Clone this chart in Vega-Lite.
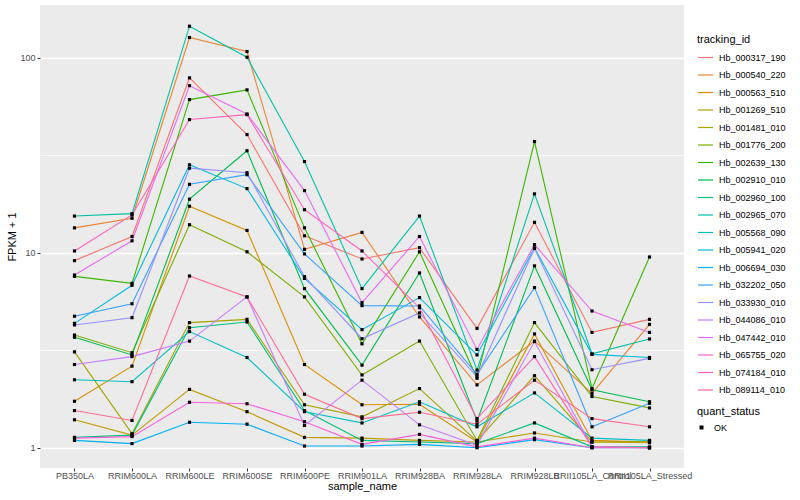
{
  "$schema": "https://vega.github.io/schema/vega-lite/v6.json",
  "width": 644,
  "height": 463,
  "autosize": {"type": "none"},
  "padding": {"left": 40, "top": 5, "right": 116, "bottom": 32},
  "background": "white",
  "config": {
    "view": {"fill": "#EBEBEB", "stroke": null},
    "font": "Liberation Sans",
    "axis": {
      "domain": false,
      "gridColor": "white",
      "gridWidth": 1.4,
      "tickColor": "#333333",
      "tickSize": 3,
      "tickWidth": 1,
      "labelColor": "#4D4D4D",
      "labelFontSize": 9,
      "labelFont": "Liberation Sans",
      "titleFont": "Liberation Sans",
      "titleFontSize": 11,
      "titleFontWeight": "normal",
      "titleColor": "black",
      "labelPadding": 2
    },
    "legend": {
      "titleFont": "Liberation Sans",
      "titleFontSize": 11,
      "titleFontWeight": "normal",
      "titleColor": "black",
      "labelFont": "Liberation Sans",
      "labelFontSize": 9,
      "labelColor": "black"
    }
  },
  "data": {
    "values": [
      {"tracking_id": "Hb_000317_190", "sample_name": "PB350LA", "fpkm": 9.1, "quant_status": "OK"},
      {"tracking_id": "Hb_000317_190", "sample_name": "RRIM600LA", "fpkm": 12.1, "quant_status": "OK"},
      {"tracking_id": "Hb_000317_190", "sample_name": "RRIM600LE", "fpkm": 78.7, "quant_status": "OK"},
      {"tracking_id": "Hb_000317_190", "sample_name": "RRIM600SE", "fpkm": 40.3, "quant_status": "OK"},
      {"tracking_id": "Hb_000317_190", "sample_name": "RRIM600PE", "fpkm": 12.2, "quant_status": "OK"},
      {"tracking_id": "Hb_000317_190", "sample_name": "RRIM901LA", "fpkm": 9.28, "quant_status": "OK"},
      {"tracking_id": "Hb_000317_190", "sample_name": "RRIM928BA", "fpkm": 10.6, "quant_status": "OK"},
      {"tracking_id": "Hb_000317_190", "sample_name": "RRIM928LA", "fpkm": 4.09, "quant_status": "OK"},
      {"tracking_id": "Hb_000317_190", "sample_name": "RRIM928LB", "fpkm": 14.3, "quant_status": "OK"},
      {"tracking_id": "Hb_000317_190", "sample_name": "RRII105LA_Control", "fpkm": 3.9, "quant_status": "OK"},
      {"tracking_id": "Hb_000317_190", "sample_name": "RRII105LA_Stressed", "fpkm": 4.55, "quant_status": "OK"},

      {"tracking_id": "Hb_000540_220", "sample_name": "PB350LA", "fpkm": 13.4, "quant_status": "OK"},
      {"tracking_id": "Hb_000540_220", "sample_name": "RRIM600LA", "fpkm": 15.0, "quant_status": "OK"},
      {"tracking_id": "Hb_000540_220", "sample_name": "RRIM600LE", "fpkm": 126.7, "quant_status": "OK"},
      {"tracking_id": "Hb_000540_220", "sample_name": "RRIM600SE", "fpkm": 107.4, "quant_status": "OK"},
      {"tracking_id": "Hb_000540_220", "sample_name": "RRIM600PE", "fpkm": 10.4, "quant_status": "OK"},
      {"tracking_id": "Hb_000540_220", "sample_name": "RRIM901LA", "fpkm": 12.7, "quant_status": "OK"},
      {"tracking_id": "Hb_000540_220", "sample_name": "RRIM928BA", "fpkm": 4.68, "quant_status": "OK"},
      {"tracking_id": "Hb_000540_220", "sample_name": "RRIM928LA", "fpkm": 2.10, "quant_status": "OK"},
      {"tracking_id": "Hb_000540_220", "sample_name": "RRIM928LB", "fpkm": 3.52, "quant_status": "OK"},
      {"tracking_id": "Hb_000540_220", "sample_name": "RRII105LA_Control", "fpkm": 1.90, "quant_status": "OK"},
      {"tracking_id": "Hb_000540_220", "sample_name": "RRII105LA_Stressed", "fpkm": 4.29, "quant_status": "OK"},

      {"tracking_id": "Hb_000563_510", "sample_name": "PB350LA", "fpkm": 1.73, "quant_status": "OK"},
      {"tracking_id": "Hb_000563_510", "sample_name": "RRIM600LA", "fpkm": 2.62, "quant_status": "OK"},
      {"tracking_id": "Hb_000563_510", "sample_name": "RRIM600LE", "fpkm": 17.3, "quant_status": "OK"},
      {"tracking_id": "Hb_000563_510", "sample_name": "RRIM600SE", "fpkm": 13.0, "quant_status": "OK"},
      {"tracking_id": "Hb_000563_510", "sample_name": "RRIM600PE", "fpkm": 2.67, "quant_status": "OK"},
      {"tracking_id": "Hb_000563_510", "sample_name": "RRIM901LA", "fpkm": 1.66, "quant_status": "OK"},
      {"tracking_id": "Hb_000563_510", "sample_name": "RRIM928BA", "fpkm": 1.67, "quant_status": "OK"},
      {"tracking_id": "Hb_000563_510", "sample_name": "RRIM928LA", "fpkm": 1.07, "quant_status": "OK"},
      {"tracking_id": "Hb_000563_510", "sample_name": "RRIM928LB", "fpkm": 3.83, "quant_status": "OK"},
      {"tracking_id": "Hb_000563_510", "sample_name": "RRII105LA_Control", "fpkm": 1.09, "quant_status": "OK"},
      {"tracking_id": "Hb_000563_510", "sample_name": "RRII105LA_Stressed", "fpkm": 1.07, "quant_status": "OK"},

      {"tracking_id": "Hb_001269_510", "sample_name": "PB350LA", "fpkm": 1.39, "quant_status": "OK"},
      {"tracking_id": "Hb_001269_510", "sample_name": "RRIM600LA", "fpkm": 1.16, "quant_status": "OK"},
      {"tracking_id": "Hb_001269_510", "sample_name": "RRIM600LE", "fpkm": 1.99, "quant_status": "OK"},
      {"tracking_id": "Hb_001269_510", "sample_name": "RRIM600SE", "fpkm": 1.53, "quant_status": "OK"},
      {"tracking_id": "Hb_001269_510", "sample_name": "RRIM600PE", "fpkm": 1.13, "quant_status": "OK"},
      {"tracking_id": "Hb_001269_510", "sample_name": "RRIM901LA", "fpkm": 1.12, "quant_status": "OK"},
      {"tracking_id": "Hb_001269_510", "sample_name": "RRIM928BA", "fpkm": 1.09, "quant_status": "OK"},
      {"tracking_id": "Hb_001269_510", "sample_name": "RRIM928LA", "fpkm": 1.07, "quant_status": "OK"},
      {"tracking_id": "Hb_001269_510", "sample_name": "RRIM928LB", "fpkm": 1.19, "quant_status": "OK"},
      {"tracking_id": "Hb_001269_510", "sample_name": "RRII105LA_Control", "fpkm": 1.07, "quant_status": "OK"},
      {"tracking_id": "Hb_001269_510", "sample_name": "RRII105LA_Stressed", "fpkm": 1.06, "quant_status": "OK"},

      {"tracking_id": "Hb_001481_010", "sample_name": "PB350LA", "fpkm": 3.10, "quant_status": "OK"},
      {"tracking_id": "Hb_001481_010", "sample_name": "RRIM600LA", "fpkm": 1.18, "quant_status": "OK"},
      {"tracking_id": "Hb_001481_010", "sample_name": "RRIM600LE", "fpkm": 4.38, "quant_status": "OK"},
      {"tracking_id": "Hb_001481_010", "sample_name": "RRIM600SE", "fpkm": 4.55, "quant_status": "OK"},
      {"tracking_id": "Hb_001481_010", "sample_name": "RRIM600PE", "fpkm": 1.66, "quant_status": "OK"},
      {"tracking_id": "Hb_001481_010", "sample_name": "RRIM901LA", "fpkm": 1.44, "quant_status": "OK"},
      {"tracking_id": "Hb_001481_010", "sample_name": "RRIM928BA", "fpkm": 2.01, "quant_status": "OK"},
      {"tracking_id": "Hb_001481_010", "sample_name": "RRIM928LA", "fpkm": 1.08, "quant_status": "OK"},
      {"tracking_id": "Hb_001481_010", "sample_name": "RRIM928LB", "fpkm": 2.34, "quant_status": "OK"},
      {"tracking_id": "Hb_001481_010", "sample_name": "RRII105LA_Control", "fpkm": 1.07, "quant_status": "OK"},
      {"tracking_id": "Hb_001481_010", "sample_name": "RRII105LA_Stressed", "fpkm": 1.08, "quant_status": "OK"},

      {"tracking_id": "Hb_001776_200", "sample_name": "PB350LA", "fpkm": 3.78, "quant_status": "OK"},
      {"tracking_id": "Hb_001776_200", "sample_name": "RRIM600LA", "fpkm": 3.07, "quant_status": "OK"},
      {"tracking_id": "Hb_001776_200", "sample_name": "RRIM600LE", "fpkm": 13.9, "quant_status": "OK"},
      {"tracking_id": "Hb_001776_200", "sample_name": "RRIM600SE", "fpkm": 10.1, "quant_status": "OK"},
      {"tracking_id": "Hb_001776_200", "sample_name": "RRIM600PE", "fpkm": 5.93, "quant_status": "OK"},
      {"tracking_id": "Hb_001776_200", "sample_name": "RRIM901LA", "fpkm": 2.36, "quant_status": "OK"},
      {"tracking_id": "Hb_001776_200", "sample_name": "RRIM928BA", "fpkm": 3.52, "quant_status": "OK"},
      {"tracking_id": "Hb_001776_200", "sample_name": "RRIM928LA", "fpkm": 1.09, "quant_status": "OK"},
      {"tracking_id": "Hb_001776_200", "sample_name": "RRIM928LB", "fpkm": 4.38, "quant_status": "OK"},
      {"tracking_id": "Hb_001776_200", "sample_name": "RRII105LA_Control", "fpkm": 1.83, "quant_status": "OK"},
      {"tracking_id": "Hb_001776_200", "sample_name": "RRII105LA_Stressed", "fpkm": 1.60, "quant_status": "OK"},

      {"tracking_id": "Hb_002639_130", "sample_name": "PB350LA", "fpkm": 7.56, "quant_status": "OK"},
      {"tracking_id": "Hb_002639_130", "sample_name": "RRIM600LA", "fpkm": 6.96, "quant_status": "OK"},
      {"tracking_id": "Hb_002639_130", "sample_name": "RRIM600LE", "fpkm": 60.9, "quant_status": "OK"},
      {"tracking_id": "Hb_002639_130", "sample_name": "RRIM600SE", "fpkm": 68.3, "quant_status": "OK"},
      {"tracking_id": "Hb_002639_130", "sample_name": "RRIM600PE", "fpkm": 13.4, "quant_status": "OK"},
      {"tracking_id": "Hb_002639_130", "sample_name": "RRIM901LA", "fpkm": 3.41, "quant_status": "OK"},
      {"tracking_id": "Hb_002639_130", "sample_name": "RRIM928BA", "fpkm": 10.1, "quant_status": "OK"},
      {"tracking_id": "Hb_002639_130", "sample_name": "RRIM928LA", "fpkm": 2.27, "quant_status": "OK"},
      {"tracking_id": "Hb_002639_130", "sample_name": "RRIM928LB", "fpkm": 37.1, "quant_status": "OK"},
      {"tracking_id": "Hb_002639_130", "sample_name": "RRII105LA_Control", "fpkm": 2.01, "quant_status": "OK"},
      {"tracking_id": "Hb_002639_130", "sample_name": "RRII105LA_Stressed", "fpkm": 9.5, "quant_status": "OK"},

      {"tracking_id": "Hb_002910_010", "sample_name": "PB350LA", "fpkm": 3.68, "quant_status": "OK"},
      {"tracking_id": "Hb_002910_010", "sample_name": "RRIM600LA", "fpkm": 2.99, "quant_status": "OK"},
      {"tracking_id": "Hb_002910_010", "sample_name": "RRIM600LE", "fpkm": 18.8, "quant_status": "OK"},
      {"tracking_id": "Hb_002910_010", "sample_name": "RRIM600SE", "fpkm": 33.3, "quant_status": "OK"},
      {"tracking_id": "Hb_002910_010", "sample_name": "RRIM600PE", "fpkm": 6.54, "quant_status": "OK"},
      {"tracking_id": "Hb_002910_010", "sample_name": "RRIM901LA", "fpkm": 2.65, "quant_status": "OK"},
      {"tracking_id": "Hb_002910_010", "sample_name": "RRIM928BA", "fpkm": 7.87, "quant_status": "OK"},
      {"tracking_id": "Hb_002910_010", "sample_name": "RRIM928LA", "fpkm": 1.37, "quant_status": "OK"},
      {"tracking_id": "Hb_002910_010", "sample_name": "RRIM928LB", "fpkm": 8.55, "quant_status": "OK"},
      {"tracking_id": "Hb_002910_010", "sample_name": "RRII105LA_Control", "fpkm": 1.98, "quant_status": "OK"},
      {"tracking_id": "Hb_002910_010", "sample_name": "RRII105LA_Stressed", "fpkm": 1.72, "quant_status": "OK"},

      {"tracking_id": "Hb_002960_100", "sample_name": "PB350LA", "fpkm": 1.13, "quant_status": "OK"},
      {"tracking_id": "Hb_002960_100", "sample_name": "RRIM600LA", "fpkm": 1.16, "quant_status": "OK"},
      {"tracking_id": "Hb_002960_100", "sample_name": "RRIM600LE", "fpkm": 4.12, "quant_status": "OK"},
      {"tracking_id": "Hb_002960_100", "sample_name": "RRIM600SE", "fpkm": 4.41, "quant_status": "OK"},
      {"tracking_id": "Hb_002960_100", "sample_name": "RRIM600PE", "fpkm": 1.55, "quant_status": "OK"},
      {"tracking_id": "Hb_002960_100", "sample_name": "RRIM901LA", "fpkm": 1.09, "quant_status": "OK"},
      {"tracking_id": "Hb_002960_100", "sample_name": "RRIM928BA", "fpkm": 1.07, "quant_status": "OK"},
      {"tracking_id": "Hb_002960_100", "sample_name": "RRIM928LA", "fpkm": 1.05, "quant_status": "OK"},
      {"tracking_id": "Hb_002960_100", "sample_name": "RRIM928LB", "fpkm": 1.34, "quant_status": "OK"},
      {"tracking_id": "Hb_002960_100", "sample_name": "RRII105LA_Control", "fpkm": 1.01, "quant_status": "OK"},
      {"tracking_id": "Hb_002960_100", "sample_name": "RRII105LA_Stressed", "fpkm": 1.01, "quant_status": "OK"},

      {"tracking_id": "Hb_002965_070", "sample_name": "PB350LA", "fpkm": 15.4, "quant_status": "OK"},
      {"tracking_id": "Hb_002965_070", "sample_name": "RRIM600LA", "fpkm": 15.85, "quant_status": "OK"},
      {"tracking_id": "Hb_002965_070", "sample_name": "RRIM600LE", "fpkm": 144.8, "quant_status": "OK"},
      {"tracking_id": "Hb_002965_070", "sample_name": "RRIM600SE", "fpkm": 100.4, "quant_status": "OK"},
      {"tracking_id": "Hb_002965_070", "sample_name": "RRIM600PE", "fpkm": 29.3, "quant_status": "OK"},
      {"tracking_id": "Hb_002965_070", "sample_name": "RRIM901LA", "fpkm": 6.54, "quant_status": "OK"},
      {"tracking_id": "Hb_002965_070", "sample_name": "RRIM928BA", "fpkm": 15.4, "quant_status": "OK"},
      {"tracking_id": "Hb_002965_070", "sample_name": "RRIM928LA", "fpkm": 2.50, "quant_status": "OK"},
      {"tracking_id": "Hb_002965_070", "sample_name": "RRIM928LB", "fpkm": 20.0, "quant_status": "OK"},
      {"tracking_id": "Hb_002965_070", "sample_name": "RRII105LA_Control", "fpkm": 3.03, "quant_status": "OK"},
      {"tracking_id": "Hb_002965_070", "sample_name": "RRII105LA_Stressed", "fpkm": 3.61, "quant_status": "OK"},

      {"tracking_id": "Hb_005568_090", "sample_name": "PB350LA", "fpkm": 2.23, "quant_status": "OK"},
      {"tracking_id": "Hb_005568_090", "sample_name": "RRIM600LA", "fpkm": 2.18, "quant_status": "OK"},
      {"tracking_id": "Hb_005568_090", "sample_name": "RRIM600LE", "fpkm": 3.94, "quant_status": "OK"},
      {"tracking_id": "Hb_005568_090", "sample_name": "RRIM600SE", "fpkm": 2.90, "quant_status": "OK"},
      {"tracking_id": "Hb_005568_090", "sample_name": "RRIM600PE", "fpkm": 1.53, "quant_status": "OK"},
      {"tracking_id": "Hb_005568_090", "sample_name": "RRIM901LA", "fpkm": 1.34, "quant_status": "OK"},
      {"tracking_id": "Hb_005568_090", "sample_name": "RRIM928BA", "fpkm": 1.72, "quant_status": "OK"},
      {"tracking_id": "Hb_005568_090", "sample_name": "RRIM928LA", "fpkm": 1.28, "quant_status": "OK"},
      {"tracking_id": "Hb_005568_090", "sample_name": "RRIM928LB", "fpkm": 1.91, "quant_status": "OK"},
      {"tracking_id": "Hb_005568_090", "sample_name": "RRII105LA_Control", "fpkm": 1.12, "quant_status": "OK"},
      {"tracking_id": "Hb_005568_090", "sample_name": "RRII105LA_Stressed", "fpkm": 1.09, "quant_status": "OK"},

      {"tracking_id": "Hb_005941_020", "sample_name": "PB350LA", "fpkm": 4.34, "quant_status": "OK"},
      {"tracking_id": "Hb_005941_020", "sample_name": "RRIM600LA", "fpkm": 6.8, "quant_status": "OK"},
      {"tracking_id": "Hb_005941_020", "sample_name": "RRIM600LE", "fpkm": 28.2, "quant_status": "OK"},
      {"tracking_id": "Hb_005941_020", "sample_name": "RRIM600SE", "fpkm": 21.3, "quant_status": "OK"},
      {"tracking_id": "Hb_005941_020", "sample_name": "RRIM600PE", "fpkm": 7.38, "quant_status": "OK"},
      {"tracking_id": "Hb_005941_020", "sample_name": "RRIM901LA", "fpkm": 4.03, "quant_status": "OK"},
      {"tracking_id": "Hb_005941_020", "sample_name": "RRIM928BA", "fpkm": 5.88, "quant_status": "OK"},
      {"tracking_id": "Hb_005941_020", "sample_name": "RRIM928LA", "fpkm": 2.99, "quant_status": "OK"},
      {"tracking_id": "Hb_005941_020", "sample_name": "RRIM928LB", "fpkm": 10.6, "quant_status": "OK"},
      {"tracking_id": "Hb_005941_020", "sample_name": "RRII105LA_Control", "fpkm": 3.01, "quant_status": "OK"},
      {"tracking_id": "Hb_005941_020", "sample_name": "RRII105LA_Stressed", "fpkm": 2.90, "quant_status": "OK"},

      {"tracking_id": "Hb_006694_030", "sample_name": "PB350LA", "fpkm": 1.09, "quant_status": "OK"},
      {"tracking_id": "Hb_006694_030", "sample_name": "RRIM600LA", "fpkm": 1.05, "quant_status": "OK"},
      {"tracking_id": "Hb_006694_030", "sample_name": "RRIM600LE", "fpkm": 1.35, "quant_status": "OK"},
      {"tracking_id": "Hb_006694_030", "sample_name": "RRIM600SE", "fpkm": 1.32, "quant_status": "OK"},
      {"tracking_id": "Hb_006694_030", "sample_name": "RRIM600PE", "fpkm": 1.02, "quant_status": "OK"},
      {"tracking_id": "Hb_006694_030", "sample_name": "RRIM901LA", "fpkm": 1.02, "quant_status": "OK"},
      {"tracking_id": "Hb_006694_030", "sample_name": "RRIM928BA", "fpkm": 1.04, "quant_status": "OK"},
      {"tracking_id": "Hb_006694_030", "sample_name": "RRIM928LA", "fpkm": 1.0, "quant_status": "OK"},
      {"tracking_id": "Hb_006694_030", "sample_name": "RRIM928LB", "fpkm": 1.10, "quant_status": "OK"},
      {"tracking_id": "Hb_006694_030", "sample_name": "RRII105LA_Control", "fpkm": 1.0, "quant_status": "OK"},
      {"tracking_id": "Hb_006694_030", "sample_name": "RRII105LA_Stressed", "fpkm": 1.0, "quant_status": "OK"},

      {"tracking_id": "Hb_032202_050", "sample_name": "PB350LA", "fpkm": 4.72, "quant_status": "OK"},
      {"tracking_id": "Hb_032202_050", "sample_name": "RRIM600LA", "fpkm": 5.47, "quant_status": "OK"},
      {"tracking_id": "Hb_032202_050", "sample_name": "RRIM600LE", "fpkm": 22.4, "quant_status": "OK"},
      {"tracking_id": "Hb_032202_050", "sample_name": "RRIM600SE", "fpkm": 25.1, "quant_status": "OK"},
      {"tracking_id": "Hb_032202_050", "sample_name": "RRIM600PE", "fpkm": 9.85, "quant_status": "OK"},
      {"tracking_id": "Hb_032202_050", "sample_name": "RRIM901LA", "fpkm": 5.35, "quant_status": "OK"},
      {"tracking_id": "Hb_032202_050", "sample_name": "RRIM928BA", "fpkm": 5.33, "quant_status": "OK"},
      {"tracking_id": "Hb_032202_050", "sample_name": "RRIM928LA", "fpkm": 2.38, "quant_status": "OK"},
      {"tracking_id": "Hb_032202_050", "sample_name": "RRIM928LB", "fpkm": 6.62, "quant_status": "OK"},
      {"tracking_id": "Hb_032202_050", "sample_name": "RRII105LA_Control", "fpkm": 1.28, "quant_status": "OK"},
      {"tracking_id": "Hb_032202_050", "sample_name": "RRII105LA_Stressed", "fpkm": 1.69, "quant_status": "OK"},

      {"tracking_id": "Hb_033930_010", "sample_name": "PB350LA", "fpkm": 4.26, "quant_status": "OK"},
      {"tracking_id": "Hb_033930_010", "sample_name": "RRIM600LA", "fpkm": 4.64, "quant_status": "OK"},
      {"tracking_id": "Hb_033930_010", "sample_name": "RRIM600LE", "fpkm": 27.1, "quant_status": "OK"},
      {"tracking_id": "Hb_033930_010", "sample_name": "RRIM600SE", "fpkm": 25.7, "quant_status": "OK"},
      {"tracking_id": "Hb_033930_010", "sample_name": "RRIM600PE", "fpkm": 7.53, "quant_status": "OK"},
      {"tracking_id": "Hb_033930_010", "sample_name": "RRIM901LA", "fpkm": 3.62, "quant_status": "OK"},
      {"tracking_id": "Hb_033930_010", "sample_name": "RRIM928BA", "fpkm": 4.91, "quant_status": "OK"},
      {"tracking_id": "Hb_033930_010", "sample_name": "RRIM928LA", "fpkm": 2.31, "quant_status": "OK"},
      {"tracking_id": "Hb_033930_010", "sample_name": "RRIM928LB", "fpkm": 10.5, "quant_status": "OK"},
      {"tracking_id": "Hb_033930_010", "sample_name": "RRII105LA_Control", "fpkm": 2.51, "quant_status": "OK"},
      {"tracking_id": "Hb_033930_010", "sample_name": "RRII105LA_Stressed", "fpkm": 2.87, "quant_status": "OK"},

      {"tracking_id": "Hb_044086_010", "sample_name": "PB350LA", "fpkm": 2.67, "quant_status": "OK"},
      {"tracking_id": "Hb_044086_010", "sample_name": "RRIM600LA", "fpkm": 2.93, "quant_status": "OK"},
      {"tracking_id": "Hb_044086_010", "sample_name": "RRIM600LE", "fpkm": 3.52, "quant_status": "OK"},
      {"tracking_id": "Hb_044086_010", "sample_name": "RRIM600SE", "fpkm": 5.93, "quant_status": "OK"},
      {"tracking_id": "Hb_044086_010", "sample_name": "RRIM600PE", "fpkm": 1.30, "quant_status": "OK"},
      {"tracking_id": "Hb_044086_010", "sample_name": "RRIM901LA", "fpkm": 2.22, "quant_status": "OK"},
      {"tracking_id": "Hb_044086_010", "sample_name": "RRIM928BA", "fpkm": 1.31, "quant_status": "OK"},
      {"tracking_id": "Hb_044086_010", "sample_name": "RRIM928LA", "fpkm": 1.03, "quant_status": "OK"},
      {"tracking_id": "Hb_044086_010", "sample_name": "RRIM928LB", "fpkm": 3.50, "quant_status": "OK"},
      {"tracking_id": "Hb_044086_010", "sample_name": "RRII105LA_Control", "fpkm": 1.01, "quant_status": "OK"},
      {"tracking_id": "Hb_044086_010", "sample_name": "RRII105LA_Stressed", "fpkm": 1.0, "quant_status": "OK"},

      {"tracking_id": "Hb_047442_010", "sample_name": "PB350LA", "fpkm": 7.68, "quant_status": "OK"},
      {"tracking_id": "Hb_047442_010", "sample_name": "RRIM600LA", "fpkm": 11.5, "quant_status": "OK"},
      {"tracking_id": "Hb_047442_010", "sample_name": "RRIM600LE", "fpkm": 71.8, "quant_status": "OK"},
      {"tracking_id": "Hb_047442_010", "sample_name": "RRIM600SE", "fpkm": 51.4, "quant_status": "OK"},
      {"tracking_id": "Hb_047442_010", "sample_name": "RRIM600PE", "fpkm": 20.8, "quant_status": "OK"},
      {"tracking_id": "Hb_047442_010", "sample_name": "RRIM901LA", "fpkm": 5.54, "quant_status": "OK"},
      {"tracking_id": "Hb_047442_010", "sample_name": "RRIM928BA", "fpkm": 12.1, "quant_status": "OK"},
      {"tracking_id": "Hb_047442_010", "sample_name": "RRIM928LA", "fpkm": 3.19, "quant_status": "OK"},
      {"tracking_id": "Hb_047442_010", "sample_name": "RRIM928LB", "fpkm": 11.0, "quant_status": "OK"},
      {"tracking_id": "Hb_047442_010", "sample_name": "RRII105LA_Control", "fpkm": 5.02, "quant_status": "OK"},
      {"tracking_id": "Hb_047442_010", "sample_name": "RRII105LA_Stressed", "fpkm": 3.90, "quant_status": "OK"},

      {"tracking_id": "Hb_065755_020", "sample_name": "PB350LA", "fpkm": 1.12, "quant_status": "OK"},
      {"tracking_id": "Hb_065755_020", "sample_name": "RRIM600LA", "fpkm": 1.14, "quant_status": "OK"},
      {"tracking_id": "Hb_065755_020", "sample_name": "RRIM600LE", "fpkm": 1.71, "quant_status": "OK"},
      {"tracking_id": "Hb_065755_020", "sample_name": "RRIM600SE", "fpkm": 1.68, "quant_status": "OK"},
      {"tracking_id": "Hb_065755_020", "sample_name": "RRIM600PE", "fpkm": 1.36, "quant_status": "OK"},
      {"tracking_id": "Hb_065755_020", "sample_name": "RRIM901LA", "fpkm": 1.04, "quant_status": "OK"},
      {"tracking_id": "Hb_065755_020", "sample_name": "RRIM928BA", "fpkm": 1.17, "quant_status": "OK"},
      {"tracking_id": "Hb_065755_020", "sample_name": "RRIM928LA", "fpkm": 1.01, "quant_status": "OK"},
      {"tracking_id": "Hb_065755_020", "sample_name": "RRIM928LB", "fpkm": 1.12, "quant_status": "OK"},
      {"tracking_id": "Hb_065755_020", "sample_name": "RRII105LA_Control", "fpkm": 1.0, "quant_status": "OK"},
      {"tracking_id": "Hb_065755_020", "sample_name": "RRII105LA_Stressed", "fpkm": 1.0, "quant_status": "OK"},

      {"tracking_id": "Hb_074184_010", "sample_name": "PB350LA", "fpkm": 10.2, "quant_status": "OK"},
      {"tracking_id": "Hb_074184_010", "sample_name": "RRIM600LA", "fpkm": 15.6, "quant_status": "OK"},
      {"tracking_id": "Hb_074184_010", "sample_name": "RRIM600LE", "fpkm": 48.1, "quant_status": "OK"},
      {"tracking_id": "Hb_074184_010", "sample_name": "RRIM600SE", "fpkm": 51.0, "quant_status": "OK"},
      {"tracking_id": "Hb_074184_010", "sample_name": "RRIM600PE", "fpkm": 16.6, "quant_status": "OK"},
      {"tracking_id": "Hb_074184_010", "sample_name": "RRIM901LA", "fpkm": 10.2, "quant_status": "OK"},
      {"tracking_id": "Hb_074184_010", "sample_name": "RRIM928BA", "fpkm": 5.22, "quant_status": "OK"},
      {"tracking_id": "Hb_074184_010", "sample_name": "RRIM928LA", "fpkm": 1.41, "quant_status": "OK"},
      {"tracking_id": "Hb_074184_010", "sample_name": "RRIM928LB", "fpkm": 2.93, "quant_status": "OK"},
      {"tracking_id": "Hb_074184_010", "sample_name": "RRII105LA_Control", "fpkm": 1.01, "quant_status": "OK"},
      {"tracking_id": "Hb_074184_010", "sample_name": "RRII105LA_Stressed", "fpkm": 1.0, "quant_status": "OK"},

      {"tracking_id": "Hb_089114_010", "sample_name": "PB350LA", "fpkm": 1.55, "quant_status": "OK"},
      {"tracking_id": "Hb_089114_010", "sample_name": "RRIM600LA", "fpkm": 1.38, "quant_status": "OK"},
      {"tracking_id": "Hb_089114_010", "sample_name": "RRIM600LE", "fpkm": 7.59, "quant_status": "OK"},
      {"tracking_id": "Hb_089114_010", "sample_name": "RRIM600SE", "fpkm": 5.93, "quant_status": "OK"},
      {"tracking_id": "Hb_089114_010", "sample_name": "RRIM600PE", "fpkm": 1.88, "quant_status": "OK"},
      {"tracking_id": "Hb_089114_010", "sample_name": "RRIM901LA", "fpkm": 1.41, "quant_status": "OK"},
      {"tracking_id": "Hb_089114_010", "sample_name": "RRIM928BA", "fpkm": 1.52, "quant_status": "OK"},
      {"tracking_id": "Hb_089114_010", "sample_name": "RRIM928LA", "fpkm": 1.32, "quant_status": "OK"},
      {"tracking_id": "Hb_089114_010", "sample_name": "RRIM928LB", "fpkm": 2.22, "quant_status": "OK"},
      {"tracking_id": "Hb_089114_010", "sample_name": "RRII105LA_Control", "fpkm": 1.41, "quant_status": "OK"},
      {"tracking_id": "Hb_089114_010", "sample_name": "RRII105LA_Stressed", "fpkm": 1.28, "quant_status": "OK"}
    ]
  },
  "encoding": {
    "x": {
      "field": "sample_name",
      "type": "nominal",
      "sort": ["PB350LA", "RRIM600LA", "RRIM600LE", "RRIM600SE", "RRIM600PE", "RRIM901LA", "RRIM928BA", "RRIM928LA", "RRIM928LB", "RRII105LA_Control", "RRII105LA_Stressed"],
      "scale": {"type": "point", "padding": 0.6},
      "axis": {"title": "sample_name", "labelAngle": 0, "labelOverlap": false, "labelPadding": 0.5, "titlePadding": 0}
    },
    "y": {
      "field": "fpkm",
      "type": "quantitative",
      "scale": {"type": "log", "domain": [0.787, 186], "nice": false, "zero": false},
      "axis": {
        "title": "FPKM + 1",
        "values": [1, 3.1623, 10, 31.623, 100],
        "labelExpr": "(datum.value == 1 || datum.value == 10 || datum.value == 100) ? format(datum.value, 'd') : ''",
        "gridWidth": {"condition": {"test": "datum.value == 1 || datum.value == 10 || datum.value == 100", "value": 1.4}, "value": 0.7},
        "tickOpacity": {"condition": {"test": "datum.value == 1 || datum.value == 10 || datum.value == 100", "value": 1}, "value": 0},
        "titlePadding": 2
      }
    }
  },
  "layer": [
    {
      "mark": {"type": "line", "strokeWidth": 1.1},
      "encoding": {
        "color": {
          "field": "tracking_id",
          "type": "nominal",
          "scale": {
            "domain": ["Hb_000317_190", "Hb_000540_220", "Hb_000563_510", "Hb_001269_510", "Hb_001481_010", "Hb_001776_200", "Hb_002639_130", "Hb_002910_010", "Hb_002960_100", "Hb_002965_070", "Hb_005568_090", "Hb_005941_020", "Hb_006694_030", "Hb_032202_050", "Hb_033930_010", "Hb_044086_010", "Hb_047442_010", "Hb_065755_020", "Hb_074184_010", "Hb_089114_010"],
            "range": ["#F8766D", "#EA8331", "#D89000", "#C09B00", "#A3A500", "#7CAE00", "#39B600", "#00BB4E", "#00BF7D", "#00C1A3", "#00BFC4", "#00BAE0", "#00B0F6", "#35A2FF", "#9590FF", "#C77CFF", "#E76BF3", "#FA62DB", "#FF62BC", "#FF6C91"]
          },
          "legend": {
            "title": "tracking_id",
            "orient": "none",
            "legendX": 657,
            "legendY": 29,
            "symbolType": "stroke",
            "symbolSize": 225,
            "symbolStrokeWidth": 1.2,
            "rowPadding": 3.5,
            "labelOffset": 5,
            "titlePadding": 4
          }
        }
      }
    },
    {
      "mark": {"type": "point", "filled": true, "size": 10, "opacity": 1, "color": "black"},
      "encoding": {
        "shape": {
          "field": "quant_status",
          "type": "nominal",
          "scale": {"range": ["square"]},
          "legend": {
            "title": "quant_status",
            "orient": "none",
            "legendX": 657,
            "legendY": 401,
            "symbolSize": 16,
            "symbolFillColor": "black",
            "symbolStrokeColor": "black",
            "labelOffset": 8,
            "titlePadding": 6
          }
        }
      }
    }
  ]
}
